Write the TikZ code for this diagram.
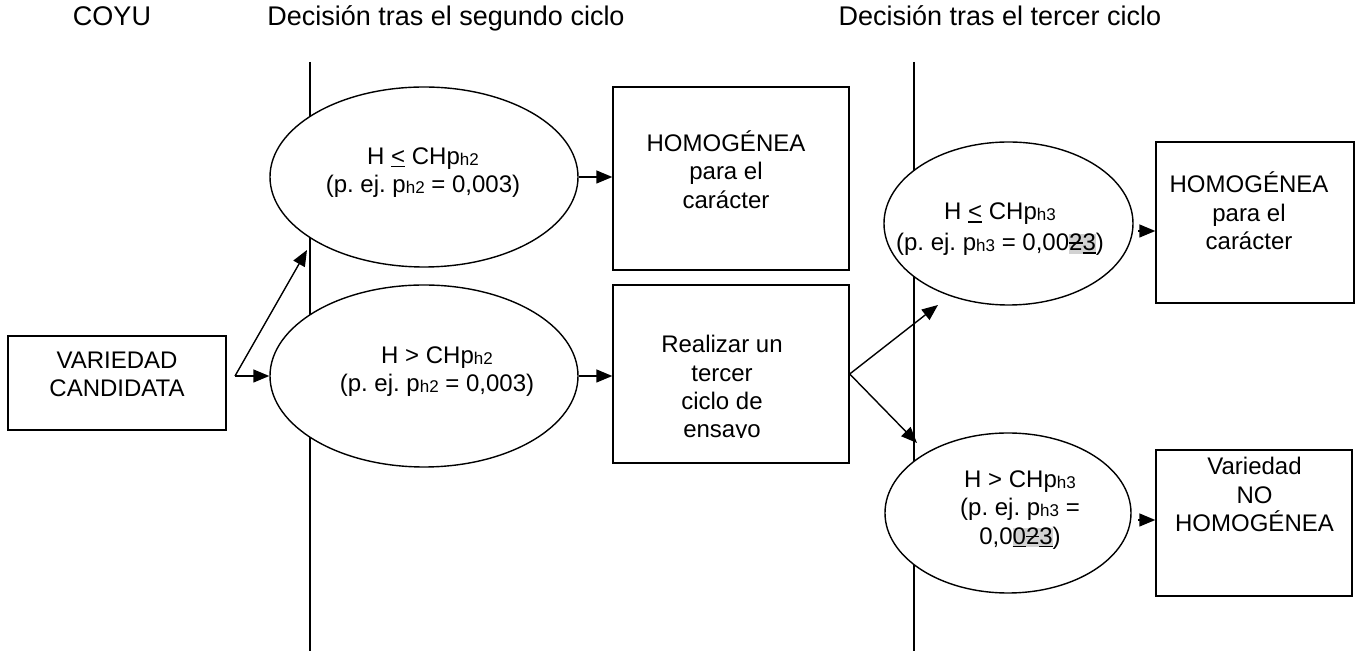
\documentclass[tikz,border=0pt]{standalone}
\usepackage{fontspec}
\setmainfont{Liberation Sans}
\usetikzlibrary{arrows.meta,shapes.geometric}
\frenchspacing
\newsavebox\mytmpbox
\newcommand{\sbs}[1]{\raisebox{-0.5pt}{\fontsize{8.5}{8.5}\selectfont #1}}
\newcommand{\hlt}[1]{{\setlength{\fboxsep}{0pt}\colorbox{gray!35}{#1}}}
\newcommand{\uln}[1]{\sbox\mytmpbox{#1}\rlap{\rule[-1.6pt]{\wd\mytmpbox}{0.6pt}}\usebox\mytmpbox}
\newcommand{\strk}[1]{\sbox\mytmpbox{#1}\rlap{\rule[3.4pt]{\wd\mytmpbox}{0.6pt}}\usebox\mytmpbox}
\begin{document}
\begin{tikzpicture}[x=0.5pt,y=-0.5pt,
  font=\fontsize{12}{14.2}\selectfont,
  box/.style={draw, line width=0.7pt, rectangle, inner sep=0pt, fill=white},
  ell/.style={draw, line width=0.7pt, ellipse, inner sep=0pt, fill=white},
  txt/.style={align=center, inner sep=0pt},
  hdr/.style={anchor=base, inner sep=0pt, font=\fontsize{13.5}{16}\selectfont},
  arr/.style={-{Triangle[length=8pt,width=6.5pt]}, line width=0.7pt},
  vline/.style={line width=0.7pt}]
\useasboundingbox (0,0) rectangle (1357,651);
% headers
\node[hdr] (h0) at (112,26) {COYU};
\node[hdr] (h1) at (446,26) {Decisión tras el segundo ciclo};
\node[hdr] (h2) at (1000,26) {Decisión tras el tercer ciclo};
% vertical lines
\coordinate (v1t) at (310,62); \coordinate (v1b) at (310,651);
\coordinate (v2t) at (914,62); \coordinate (v2b) at (914,651);
\draw[vline] (v1t) -- (v1b);
\draw[vline] (v2t) -- (v2b);
% boxes
\node[box, minimum width=109pt, minimum height=47pt] (b0) at (117,383) {};
\node[box, minimum width=118pt, minimum height=91.5pt] (b1) at (731,178.5) {};
\node[box, minimum width=118pt, minimum height=89pt] (b2) at (731,374) {};
\node[box, minimum width=99pt, minimum height=80.5pt] (b3) at (1255,222.5) {};
\node[box, minimum width=98pt, minimum height=73pt] (b4) at (1254,523) {};
% ellipses
\node[ell, minimum width=154pt, minimum height=90pt] (e1) at (424,177) {};
\node[ell, minimum width=154pt, minimum height=91pt] (e2) at (424,376) {};
\node[ell, minimum width=124.5pt, minimum height=81.5pt] (e3) at (1008.5,223.5) {};
\node[ell, minimum width=123pt, minimum height=80pt] (e4) at (1008,513) {};
% texts
\node[txt] (t0) at (117,374.5) {VARIEDAD\\CANDIDATA};
\node[txt] (t1) at (423,172.5) {H \uln{<} CHp\sbs{h2}\\(p. ej. p\sbs{h2} = 0,003)};
\node[txt] (t2) at (437,371.5) {H > CHp\sbs{h2}\\(p. ej. p\sbs{h2} = 0,003)};
\node[txt] (tb1) at (726,169.5) {HOMOGÉNEA\\para el\\carácter};
\begin{scope}
\clip (613,285) rectangle (849,438);
\node[txt] (tb2) at (722,389) {Realizar un\\tercer\\ciclo de\\ensayo};
\end{scope}
\node[txt] (t3) at (1000,229) {H \uln{<} CHp\sbs{h3}\\[1.3pt](p. ej. p\sbs{h3} = 0,00\hlt{\strk{2}\uln{3}})};
\node[txt] (t4) at (1020,510) {H > CHp\sbs{h3}\\(p. ej. p\sbs{h3} =\\0,0\hlt{\uln{0}\strk{2}\uln{3}})};
\node[txt] (tb3) at (1249,211) {HOMOGÉNEA\\para el\\carácter};
\node[txt] (tb4) at (1254.5,494.5) {Variedad\\NO\\HOMOGÉNEA};
% connectors
\coordinate (f0) at (235,376);
\coordinate (a1) at (307,250);
\coordinate (a2) at (938,305);
\coordinate (a3) at (917,443);
\coordinate (a4) at (1138,231);
\coordinate (a5) at (1138,520);
\draw[arr] (f0) -- (e2.west);
\draw[arr] (f0) -- (a1);
\draw[arr] (e1.east) -- (e1.east -| b1.west);
\draw[arr] (e2.east) -- (e2.east -| b2.west);
\draw[arr] (b2.east) -- (a2);
\draw[arr] (b2.east) -- (a3);
\draw[arr] (a4) -- (a4 -| b3.west);
\draw[arr] (a5) -- (a5 -| b4.west);
\end{tikzpicture}
\end{document}
